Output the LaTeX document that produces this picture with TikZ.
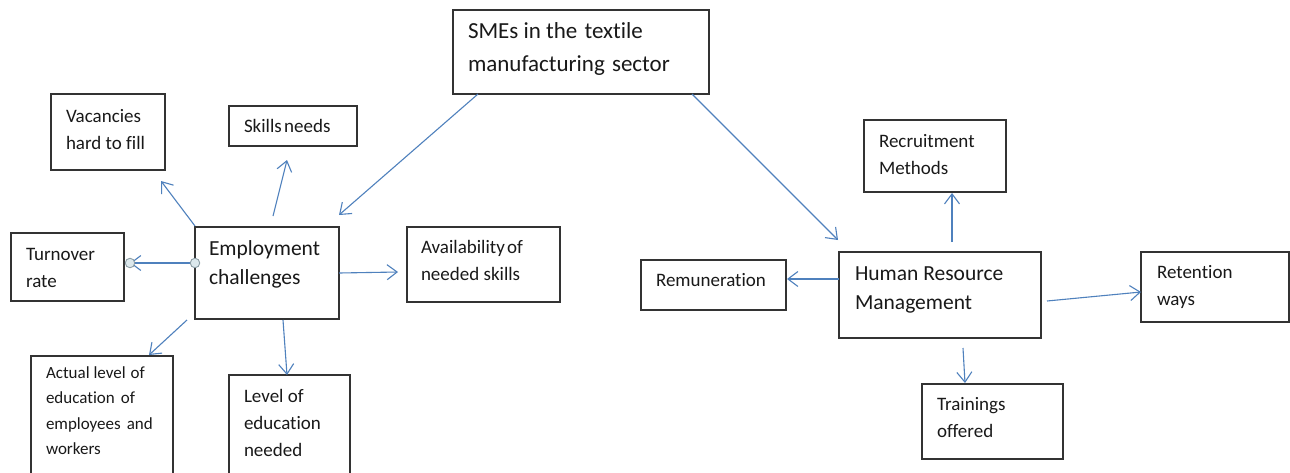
\documentclass[tikz,border=0pt]{standalone}
\usepackage{fontspec}
\setmainfont{Carlito}[Ligatures={NoCommon}]
\usetikzlibrary{arrows.meta}
\definecolor{linkblue}{HTML}{4F81BD}
\definecolor{boxline}{HTML}{333333}
\definecolor{handlefill}{HTML}{DCE8EC}
\definecolor{handleline}{HTML}{8C9EA6}
\newcommand\smalltxt{\fontsize{19}{27}\selectfont}
\newcommand\bigtxt{\fontsize{21.5}{29.5}\selectfont}
\newcommand\lines[1]{\parbox[t]{300pt}{\raggedright #1}}
\tikzset{
  boxst/.style={draw=boxline, line width=1.3pt, inner sep=0pt, outer sep=0pt, anchor=north west},
  txt/.style={anchor=base west, inner sep=0pt, outer sep=0pt, text=black!90},
  arr/.style={draw=linkblue, line width=1.1pt, -{Straight Barb[length=10pt,width=15pt,line width=1.1pt]}},
  handle/.style={circle, draw=handleline, fill=handlefill, line width=0.9pt, minimum size=9.5pt, inner sep=0pt}
}
\begin{document}
\begin{tikzpicture}[x=1pt, y=-1pt]
\useasboundingbox[fill=white] (0,0) rectangle (1290,472);

% boxes
\node[boxst, minimum width=256pt, minimum height=84pt] (sme) at (453,10) {};
\node[boxst, minimum width=114pt, minimum height=76pt] (vac) at (51,94) {};
\node[boxst, minimum width=128pt, minimum height=40pt] (skl) at (229,106) {};
\node[boxst, minimum width=113pt, minimum height=68pt] (trn) at (11,233) {};
\node[boxst, minimum width=144pt, minimum height=92pt] (emp) at (195,227) {};
\node[boxst, minimum width=153pt, minimum height=75pt] (avl) at (407,227) {};
\node[boxst, minimum width=142pt, minimum height=130pt] (act) at (31,356) {};
\node[boxst, minimum width=121pt, minimum height=110pt] (lvl) at (229,375) {};
\node[boxst, minimum width=145pt, minimum height=50pt] (rem) at (641,260) {};
\node[boxst, minimum width=142pt, minimum height=72pt] (rec) at (864,120) {};
\node[boxst, minimum width=202pt, minimum height=86pt] (hrm) at (839,252) {};
\node[boxst, minimum width=148pt, minimum height=70pt] (ret) at (1141,252) {};
\node[boxst, minimum width=141pt, minimum height=75pt] (tro) at (922,384) {};

% texts
\node[txt, font=\fontsize{23}{33}\selectfont] (sme-t) at (468,38) {\lines{SMEs in the\hspace{2pt} textile\\manufacturing\hspace{2pt} sector}};
\node[txt, font=\smalltxt] (vac-t) at (66,122) {\lines{Vacancies\\hard to fill}};
\node[txt, font=\smalltxt] (skl-t) at (244,132) {\lines{Skills\hspace{-2pt} needs}};
\node[txt, font=\smalltxt] (trn-t) at (26,260) {\lines{Turnover\\rate}};
\node[txt, font=\bigtxt] (emp-t) at (209,255) {\lines{Employment\\challenges}};
\node[txt, font=\smalltxt] (avl-t) at (421,253) {\lines{Availability\hspace{-2pt} of\\needed skills}};
\node[txt, font=\fontsize{17}{25.5}\selectfont] (act-t) at (46,378) {\lines{Actual level\hspace{5pt}of\\education\hspace{6pt}of\\employees\hspace{6pt}and\\workers}};
\node[txt, font=\smalltxt] (lvl-t) at (244,402) {\lines{Level of\\education\\needed}};
\node[txt, font=\smalltxt] (rem-t) at (656,286) {\lines{Remuneration}};
\node[txt, font=\smalltxt] (rec-t) at (879,147) {\lines{Recruitment\\Methods}};
\node[txt, font=\bigtxt] (hrm-t) at (855,280) {\lines{Human Resource\\Management}};
\node[txt, font=\smalltxt] (ret-t) at (1157,278) {\lines{Retention\\ways}};
\node[txt, font=\smalltxt] (tro-t) at (937,410) {\lines{Trainings\\offered}};

% connector end points
\coordinate (p1s) at (478,94);   \coordinate (p1e) at (339,215);
\coordinate (p2s) at (692,94);   \coordinate (p2e) at (838,240);
\coordinate (p3s) at (195,226);  \coordinate (p3e) at (161,181);
\coordinate (p4s) at (273,216);  \coordinate (p4e) at (287,160);
\coordinate (p5s) at (195,263);  \coordinate (p5e) at (130,263);
\coordinate (p6s) at (339,273);  \coordinate (p6e) at (398,272);
\coordinate (p7s) at (187,320);  \coordinate (p7e) at (149,355);
\coordinate (p8s) at (283,320);  \coordinate (p8e) at (287,375);
\coordinate (p9s) at (952,242);  \coordinate (p9e) at (952,193);
\coordinate (p10s) at (839,279); \coordinate (p10e) at (787,279);
\coordinate (p11s) at (1047,301);\coordinate (p11e) at (1141,292);
\coordinate (p12s) at (963,348); \coordinate (p12e) at (965,383);

% connectors
\draw[arr] (p1s) -- (p1e);
\draw[arr] (p2s) -- (p2e);
\draw[arr] (p3s) -- (p3e);
\draw[arr] (p4s) -- (p4e);
\draw[arr] (p5s) -- (p5e);
\draw[arr] (p6s) -- (p6e);
\draw[arr] (p7s) -- (p7e);
\draw[arr] (p8s) -- (p8e);
\draw[arr] (p9s) -- (p9e);
\draw[arr] (p10s) -- (p10e);
\draw[arr] (p11s) -- (p11e);
\draw[arr] (p12s) -- (p12e);

% connector handles on the turnover link
\node[handle] (h1) at (p5s) {};
\node[handle] (h2) at (p5e) {};
\end{tikzpicture}
\end{document}
